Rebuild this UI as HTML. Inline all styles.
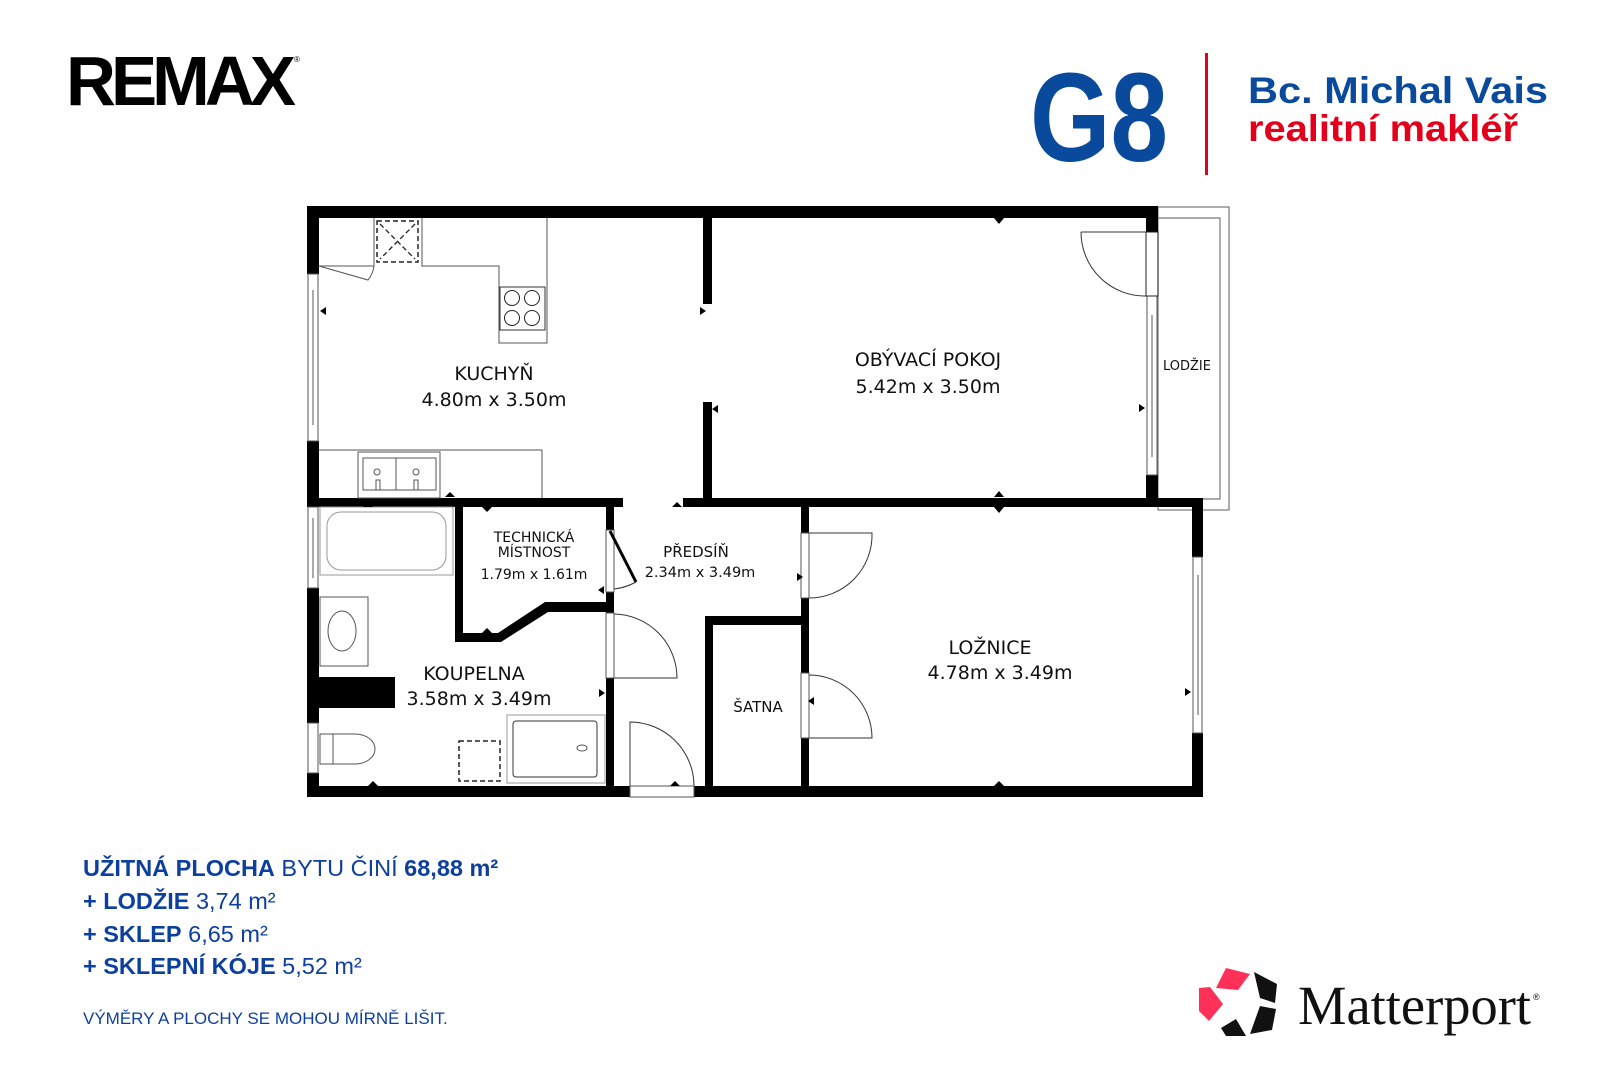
<!DOCTYPE html>
<html><head><meta charset="utf-8"><style>
html,body{margin:0;padding:0;background:#fff;}
body{width:1600px;height:1066px;position:relative;overflow:hidden;font-family:"Liberation Sans",sans-serif;}
svg{position:absolute;left:0;top:0;}
.t{font-family:"DejaVu Sans","Liberation Sans",sans-serif;fill:#111;text-anchor:middle;}
.info{position:absolute;left:83px;color:#0d3f9f;font-family:"Liberation Sans",sans-serif;font-size:23.5px;white-space:nowrap;line-height:1;}
.info b{font-weight:bold;}
</style></head><body>
<svg width="1600" height="1066" viewBox="0 0 1600 1066">
<text x="66" y="105" font-family="Liberation Sans" font-weight="bold" font-size="70" letter-spacing="-5" textLength="225" lengthAdjust="spacingAndGlyphs" fill="#000">REMAX</text>
<text x="294" y="62" font-size="8" fill="#000">®</text>
<text x="1030" y="161" font-family="Liberation Sans" font-weight="bold" font-size="126" textLength="138" lengthAdjust="spacingAndGlyphs" fill="#0a4a9c">G8</text>
<rect x="1205" y="53" width="3" height="122" fill="#e2001a"/>
<text x="1248" y="103" font-family="Liberation Sans" font-weight="bold" font-size="37" fill="#0a4a9c" textLength="300" lengthAdjust="spacingAndGlyphs">Bc. Michal Vais</text>
<text x="1248" y="141" font-family="Liberation Sans" font-weight="bold" font-size="37" fill="#e2001a" textLength="270" lengthAdjust="spacingAndGlyphs">realitní makléř</text>

<rect x="1158" y="207" width="71" height="303" fill="none" stroke="#777" stroke-width="1.2"/>
<polyline points="1158,218 1220,218 1220,499 1200,499" fill="none" stroke="#777" stroke-width="1.2"/>

<g fill="#000">
<rect x="307" y="206" width="851" height="12"/>
<rect x="307" y="206" width="12" height="68"/>
<rect x="307" y="441" width="12" height="66"/>
<rect x="307" y="588" width="12" height="135"/>
<rect x="307" y="773" width="12" height="24"/>
<rect x="307" y="786" width="323" height="11"/>
<rect x="694" y="786" width="509" height="11"/>
<rect x="703" y="218" width="9" height="86"/>
<rect x="703" y="402" width="9" height="104"/>
<rect x="1146" y="206" width="12" height="26"/>
<rect x="1146" y="475" width="12" height="31"/>
<rect x="307" y="498" width="316" height="9"/>
<rect x="683" y="498" width="520" height="9"/>
<rect x="1192" y="498" width="11" height="59"/>
<rect x="1192" y="733" width="11" height="64"/>
<rect x="801" y="506" width="8" height="27"/>
<rect x="801" y="598" width="8" height="75"/>
<rect x="801" y="738" width="8" height="50"/>
<rect x="705" y="616" width="100" height="9"/>
<rect x="705" y="616" width="8" height="172"/>
<rect x="455" y="506" width="8" height="136"/>
<polygon points="455,633 498,633 545,602 614,602 614,612 548,612 501,642 455,642"/>
<rect x="606" y="506" width="8" height="24"/>
<rect x="606" y="592" width="8" height="21"/>
<rect x="606" y="678" width="8" height="110"/>
<rect x="319" y="677" width="76" height="31"/>
</g>

<g fill="none" stroke="#555" stroke-width="1">
<rect x="308" y="274" width="10" height="167"/><line x1="313" y1="290" x2="313" y2="425"/>
<rect x="308" y="507" width="10" height="81"/><line x1="313" y1="518" x2="313" y2="578"/>
<rect x="308" y="723" width="10" height="50"/>
<rect x="1147" y="296" width="10" height="179"/><line x1="1152" y1="315" x2="1152" y2="457"/>
<rect x="1193" y="557" width="9" height="176"/><line x1="1198" y1="575" x2="1198" y2="715"/>
<rect x="1146" y="232" width="12" height="64" stroke="#222"/>
<path d="M1081,232 L1146,232 M1146,296 A64,64 0 0 1 1081,232" stroke="#333"/>
<rect x="801" y="533" width="8" height="65"/>
<path d="M809,533 L872,533 A63,63 0 0 1 809,598" stroke="#333"/>
<rect x="801" y="673" width="8" height="65"/>
<path d="M809,738 L872,738 A63,63 0 0 0 809,675" stroke="#333"/>
<rect x="606" y="613" width="8" height="65"/>
<path d="M614,678 L677,678 A64,64 0 0 0 614,614" stroke="#333"/>
<rect x="630" y="786" width="64" height="11"/>
<path d="M630,786 L630,722 A64,64 0 0 1 694,786" stroke="#333"/>
<rect x="606" y="530" width="8" height="62"/>
<line x1="610" y1="531" x2="636" y2="582" stroke="#000" stroke-width="3"/>
<path d="M636,582 Q625,588 614,589" stroke="#333"/>
<polyline points="374,218 374,266 319,266" stroke="#555"/>
<polyline points="422,218 422,266 499,266 499,343 547,343 547,218"/>
<path d="M319,266 L368,280 Q373,274 374,266"/>
<rect x="500" y="287" width="45" height="43" stroke="#333"/>
<circle cx="512" cy="298" r="7.5" stroke="#222"/><circle cx="532" cy="298" r="7.5" stroke="#222"/>
<circle cx="512" cy="318" r="7.5" stroke="#222"/><circle cx="532" cy="318" r="7.5" stroke="#222"/>
<polyline points="319,450 542,450 542,498"/>
<rect x="358" y="452" width="82" height="46"/>
<rect x="363" y="458" width="33" height="32"/><rect x="396" y="458" width="40" height="32"/>
<circle cx="377" cy="472" r="3"/><circle cx="416" cy="472" r="3"/>
<rect x="376" y="480" width="4" height="10"/><rect x="414" y="480" width="4" height="10"/>
<rect x="377" y="221" width="41" height="41" stroke="#222" stroke-width="1.5" stroke-dasharray="5,3"/>
<path d="M380,224 L415,259 M415,224 L380,259" stroke="#222" stroke-width="1.3" stroke-dasharray="5,3"/>
<rect x="320" y="507" width="133" height="68" stroke="#999"/>
<rect x="327" y="512" width="119" height="58" rx="14" stroke="#999"/>
<rect x="320" y="597" width="48" height="69"/>
<ellipse cx="342" cy="631" rx="14" ry="20"/>
<path d="M320,734 L355,734 A20,15 0 0 1 355,764 L320,764 Z"/><line x1="333" y1="734" x2="333" y2="764"/>
<rect x="459" y="741" width="41" height="40" stroke="#222" stroke-width="1.5" stroke-dasharray="5,3"/>
<rect x="507" y="715" width="98" height="68" stroke="#999"/>
<rect x="513" y="721" width="84" height="56" rx="3" stroke="#333"/>
<ellipse cx="582" cy="748" rx="5" ry="3"/>
</g>

<g fill="#000">
<path d="M442,218 l4,-6 l4,6Z"/>
<path d="M320,311 l6,-4 l0,8Z"/>
<path d="M700,307 l6,4 l-6,4Z"/>
<path d="M718,405 l-6,4 l6,4Z"/>
<path d="M994,218 l5,6 l5,-6Z"/>
<path d="M1139,404 l6,4 l-6,4Z"/>
<path d="M994,497 l5,-6 l5,6Z"/><path d="M994,507 l5,6 l5,-6Z"/>
<path d="M994,786 l5,-5 l5,5Z"/>
<path d="M1185,688 l6,4 l-6,4Z"/>
<path d="M445,497 l5,-5 l5,5Z"/>
<path d="M363,507 l5,-5 l5,5Z"/>
<path d="M482,507 l5,5 l5,-5Z"/>
<path d="M482,633 l5,-5 l5,5Z"/>
<path d="M368,786 l5,-5 l5,5Z"/>
<path d="M670,786 l5,-5 l5,5Z"/>
<path d="M672,507 l5,-5 l5,5Z"/>
<path d="M598,590 l6,-4 l0,8Z"/>
<path d="M605,693 l-6,-4 l0,8Z"/>
<path d="M797,573 l6,4 l-6,4Z"/>
<path d="M814,697 l-6,4 l6,4Z"/>
</g>

<text class="t" x="494" y="380" font-size="19">KUCHYŇ</text>
<text class="t" x="494" y="406" font-size="19">4.80m x 3.50m</text>
<text class="t" x="928" y="366" font-size="19">OBÝVACÍ POKOJ</text>
<text class="t" x="928" y="393" font-size="19">5.42m x 3.50m</text>
<text class="t" x="1187" y="370" font-size="13">LODŽIE</text>
<text class="t" x="534" y="542" font-size="14">TECHNICKÁ</text>
<text class="t" x="534" y="557" font-size="14">MÍSTNOST</text>
<text class="t" x="534" y="579" font-size="14">1.79m x 1.61m</text>
<text class="t" x="696" y="557" font-size="15">PŘEDSÍŇ</text>
<text class="t" x="700" y="577" font-size="14.5">2.34m x 3.49m</text>
<text class="t" x="474" y="680" font-size="19">KOUPELNA</text>
<text class="t" x="479" y="705" font-size="19">3.58m x 3.49m</text>
<text class="t" x="758" y="712" font-size="15">ŠATNA</text>
<text class="t" x="990" y="654" font-size="19">LOŽNICE</text>
<text class="t" x="1000" y="679" font-size="19">4.78m x 3.49m</text>

<g>
<polygon points="1226,968 1250,974 1238,990 1216,988" fill="#ff3158"/>
<polygon points="1205,989 1216,988 1229,1005 1215,1022 1205,1012" fill="#ff3158" transform="translate(-6,-1)"/>
<polygon points="1254,972 1277,984 1275,1003 1260,998" fill="#111"/>
<polygon points="1260,1006 1276,1009 1272,1030 1250,1034" fill="#111"/>
<polygon points="1221,1028 1236,1019 1246,1036 1226,1036" fill="#111"/>
</g>
<text x="1298" y="1024" font-family="Liberation Serif" font-size="55" fill="#111" textLength="233" lengthAdjust="spacingAndGlyphs">Matterport</text>
<text x="1533" y="1000" font-family="Liberation Sans" font-size="9" fill="#111">®</text>
</svg>

<div class="info" style="top:857px;"><b>UŽITNÁ PLOCHA</b> BYTU ČINÍ <b>68,88 m²</b></div>
<div class="info" style="top:890px;"><b>+ LODŽIE</b> 3,74 m²</div>
<div class="info" style="top:923px;"><b>+ SKLEP</b> 6,65 m²</div>
<div class="info" style="top:955px;"><b>+ SKLEPNÍ KÓJE</b> 5,52 m²</div>
<div class="info" style="top:1010px;font-size:17px;">VÝMĚRY A PLOCHY SE MOHOU MÍRNĚ LIŠIT.</div>
</body></html>
